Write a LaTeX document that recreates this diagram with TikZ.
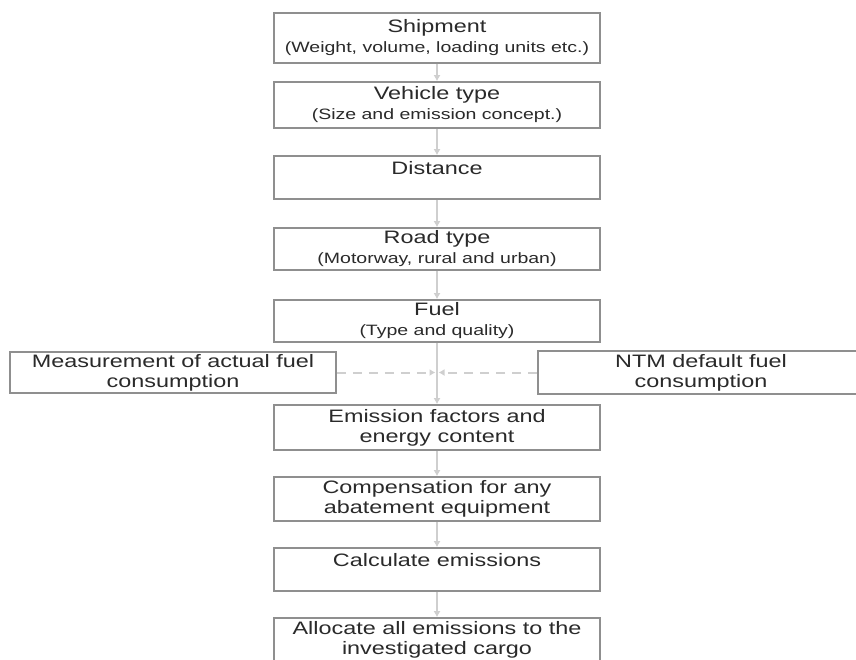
\documentclass[tikz,border=0pt]{standalone}
\usepackage{fontspec}
\setmainfont{Liberation Sans}[FakeStretch=1.3]
\usepackage{tikz}
\usetikzlibrary{positioning,arrows.meta}
\definecolor{boxline}{HTML}{8F8F8F}
\definecolor{flowline}{HTML}{CFCFCF}
\definecolor{boxtext}{HTML}{2A2A2A}
\newcommand{\subtxt}[1]{{\fontsize{15}{20}\selectfont #1}}

\begin{document}
\begin{tikzpicture}[x=1pt, y=-1pt,
    box/.style={draw=boxline, line width=1.6pt, fill=white, text=boxtext, align=center,
                inner sep=0pt, minimum width=326pt, minimum height=43pt,
                font=\fontsize{18}{20}\selectfont},
    flow/.style={draw=flowline, line width=2pt, -{Latex[length=6pt,width=7pt]}},
    sideflow/.style={flow, dash pattern=on 9pt off 7pt, shorten >=1.5pt}]

    % Page size
    \useasboundingbox (0,0) rectangle (856,659);

    % Main chain
    \node[box, minimum height=50pt] (ship) at (437,38) {Shipment\\\subtxt{(Weight, volume, loading units etc.)}};
    \node[box, minimum height=46pt] (veh) at (437,105) {Vehicle type\\\subtxt{(Size and emission concept.)}};
    \node[box] (dist) at (437,177.5) {Distance\\\mbox{}};
    \node[box, minimum height=42pt] (road) at (437,249) {Road type\\\subtxt{(Motorway, rural and urban)}};
    \node[box, minimum height=42pt] (fuel) at (437,321) {Fuel\\\subtxt{(Type and quality)}};
    \node[box, minimum height=45pt] (emis) at (437,427.5) {Emission factors and\\energy content};
    \node[box, minimum height=44pt] (comp) at (437,499) {Compensation for any\\abatement equipment};
    \node[box] (calc) at (437,569.5) {Calculate emissions\\\mbox{}};
    \node[box, minimum height=44pt] (alloc) at (437,640) {Allocate all emissions to the\\investigated cargo};

    % Fuel consumption sources
    \node[box, minimum height=41pt] (meas) at (173,372.5) {Measurement of actual fuel\\consumption};
    \node[box] (ntm) at (701,372.5) {NTM default fuel\\consumption};
    \coordinate (join) at (437,372.5);

    % Arrows
    \draw[flow] (ship) -- (veh);
    \draw[flow] (veh) -- (dist);
    \draw[flow] (dist) -- (road);
    \draw[flow] (road) -- (fuel);
    \draw[flow] (fuel) -- (emis);
    \draw[flow] (emis) -- (comp);
    \draw[flow] (comp) -- (calc);
    \draw[flow] (calc) -- (alloc);
    \draw[sideflow] (meas) -- (join);
    \draw[sideflow] (ntm) -- (join);

\end{tikzpicture}
\end{document}
